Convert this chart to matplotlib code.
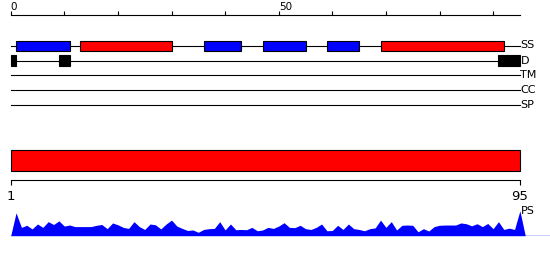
import matplotlib
matplotlib.use("Agg")
import matplotlib.pyplot as plt
from matplotlib.patches import Rectangle

# sequence length and top scale ticks
seq_len = 95
scale_ticks = list(range(0, 91, 10))
scale_labels = {0: "0", 50: "50"}

# secondary structure: (start, end, kind)  H = helix (red), E = strand (blue)
ss_segments = [(1, 11, "E"), (13, 30, "H"), (36, 43, "E"),
               (47, 55, "E"), (59, 65, "E"), (69, 92, "H")]

# disordered regions
disorder_segments = [(0, 1), (9, 11), (91, 95)]

# track names
track_names = ["SS", "D", "TM", "CC", "SP"]

# PS profile, one value per residue 1..95 (0-1)
ps_scores = [0.88, 0.32, 0.40, 0.26, 0.45, 0.32, 0.54, 0.43, 0.57, 0.37,
             0.41, 0.35, 0.35, 0.35, 0.35, 0.40, 0.43, 0.27, 0.49, 0.42,
             0.32, 0.28, 0.54, 0.35, 0.24, 0.45, 0.42, 0.26, 0.45, 0.60,
             0.37, 0.28, 0.20, 0.22, 0.13, 0.24, 0.27, 0.28, 0.54, 0.22,
             0.45, 0.23, 0.24, 0.23, 0.32, 0.19, 0.22, 0.32, 0.28, 0.37,
             0.50, 0.32, 0.31, 0.40, 0.27, 0.24, 0.32, 0.45, 0.19, 0.20,
             0.40, 0.24, 0.45, 0.27, 0.24, 0.19, 0.27, 0.30, 0.60, 0.32,
             0.54, 0.22, 0.40, 0.41, 0.40, 0.15, 0.27, 0.18, 0.35, 0.40,
             0.41, 0.41, 0.41, 0.49, 0.46, 0.38, 0.46, 0.35, 0.47, 0.27,
             0.54, 0.24, 0.29, 0.24, 0.96]

ss_colors = {"H": "#ff0000", "E": "#0000ff"}

W, H = 550, 260
px_per_res = 5.36
x0_px = 10.7
lw = 0.8


def main():
    fig = plt.figure(figsize=(W / 100, H / 100), dpi=100)
    xlim = (-x0_px / px_per_res, (W - x0_px) / px_per_res)

    # main axes: y in pixel rows, x in residues
    ax = fig.add_axes([0, 0, 1, 1])
    ax.set_xlim(*xlim)
    ax.set_ylim(H, 0)
    ax.axis("off")

    # top scale
    ax.plot([0, seq_len], [15, 15], color="black", lw=lw)
    ax.vlines(scale_ticks, 11, 15, color="black", lw=lw)
    for t, lab in scale_labels.items():
        ax.text(t, 9.5, lab, ha="left", va="baseline", fontsize=7.5)

    # feature tracks
    track_y = [45.5, 60.5, 75, 90, 105]
    for name, y in zip(track_names, track_y):
        ax.plot([0, seq_len], [y, y], color="black", lw=lw, zorder=1)
        ax.text(seq_len + 0.1, y, name, ha="left", va="center", fontsize=8)

    ss_y = track_y[0]
    for start, end, kind in ss_segments:
        ax.add_patch(Rectangle((start, ss_y - 5), end - start, 10,
                               facecolor=ss_colors[kind], edgecolor="black",
                               lw=lw, zorder=2))

    d_y = track_y[1]
    for start, end in disorder_segments:
        ax.add_patch(Rectangle((start, d_y - 5.5), end - start, 11,
                               facecolor="black", edgecolor="black",
                               lw=lw, zorder=2))

    # full-length bar with its scale
    ax.add_patch(Rectangle((0, 150), seq_len, 20.5, facecolor="#ff0000",
                           edgecolor="black", lw=lw))
    ax.plot([0, seq_len], [180.3, 180.3], color="black", lw=lw)
    ax.vlines([0, seq_len], 180.3, 185, color="black", lw=lw)
    ax.text(0, 189.5, "1", ha="center", va="top", fontsize=9.5)
    ax.text(seq_len, 189.5, str(seq_len), ha="center", va="top", fontsize=9.5)

    # PS profile
    base_px = 235.7
    ax_ps = fig.add_axes([0, (H - base_px) / H, 1, 26 / H])
    ax_ps.set_xlim(*xlim)
    ax_ps.set_ylim(0, 1)
    ax_ps.axis("off")
    xs = list(range(0, seq_len + 2))
    ys = [0] + ps_scores + [0]
    ax_ps.fill_between(xs, ys, 0, color="#0000ff", lw=0)
    ax_ps.plot([0, xlim[1]], [0, 0], color="#0000ff", lw=1.0)
    ax.text(seq_len + 0.1, 211.5, "PS", ha="left", va="center", fontsize=8)

    fig.savefig("out.png", dpi=100)


if __name__ == "__main__":
    main()
